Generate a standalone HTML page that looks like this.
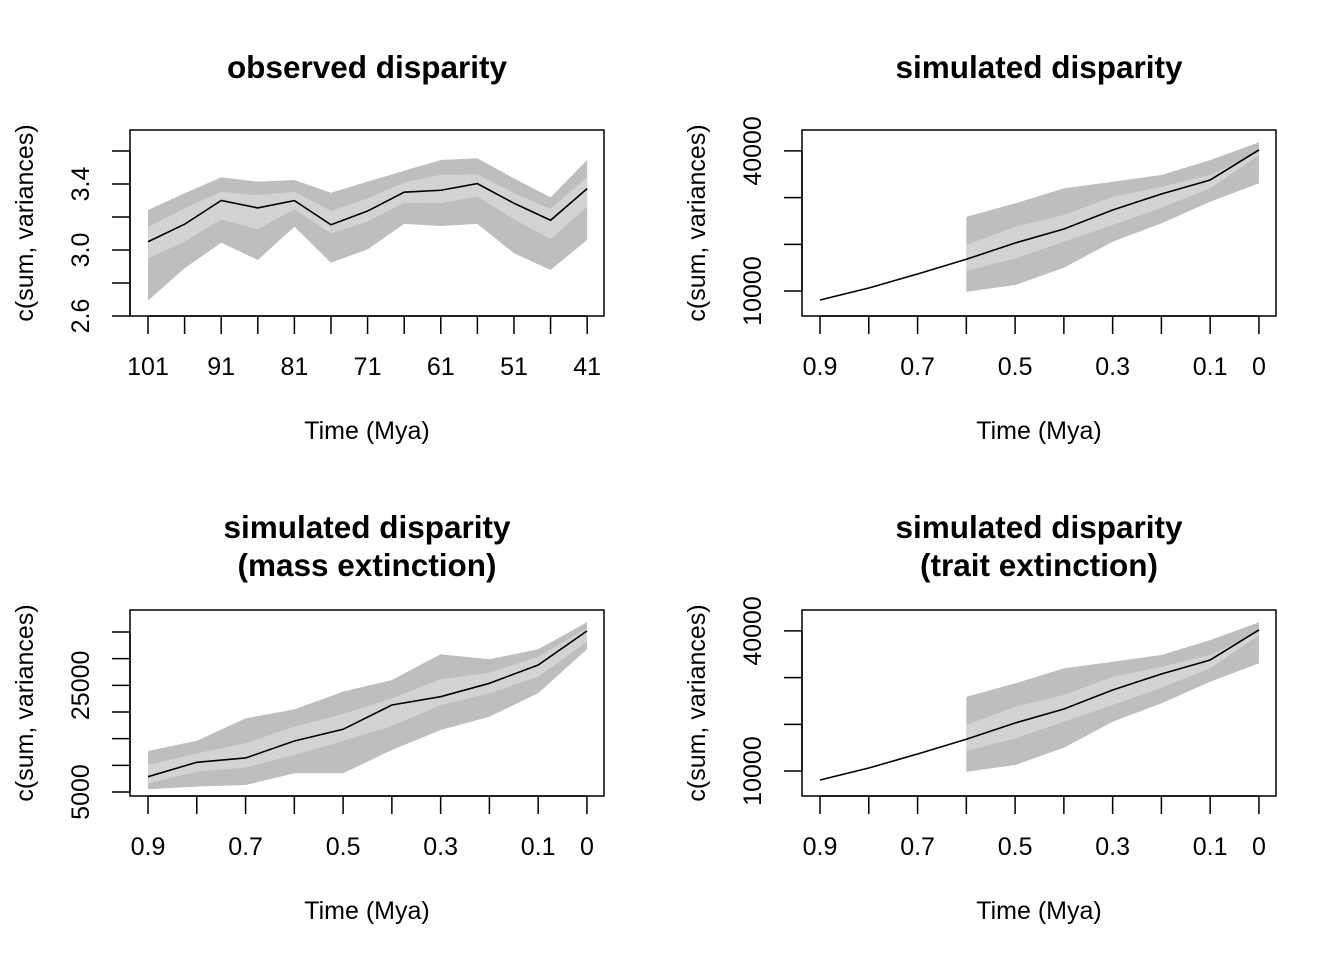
<!DOCTYPE html>
<html><head><meta charset="utf-8"><style>body{margin:0;background:#fff}svg{display:block;font-family:"Liberation Sans",Arial,sans-serif}</style></head>
<body>
<svg id="c" width="1344" height="960"></svg>
<script>
const p1Ages=[101,96,91,86,81,76,71,66,61,56,51,46,41];
const p1Median=[3.05,3.156,3.30,3.255,3.299,3.153,3.236,3.35,3.362,3.402,3.283,3.18,3.372];
const p1OuterHi=[3.242,3.344,3.44,3.414,3.424,3.347,3.414,3.48,3.545,3.556,3.434,3.319,3.545];
const p1InnerHi=[3.141,3.253,3.353,3.333,3.353,3.236,3.313,3.41,3.455,3.459,3.344,3.248,3.444];
const p1InnerLo=[2.95,3.05,3.186,3.125,3.247,3.101,3.172,3.287,3.283,3.323,3.186,3.065,3.262];
const p1OuterLo=[2.693,2.889,3.044,2.939,3.141,2.923,3.004,3.158,3.145,3.158,2.98,2.879,3.061];
const p1XTicks=[101,91,81,71,61,51,41];
const p1YTicks=["2.6","3.0","3.4"];
const p1YMinor=[2.6,2.8,3.0,3.2,3.4,3.6];

const simTimes=[0.9,0.8,0.7,0.6,0.5,0.4,0.3,0.2,0.1,0];
const simMedian=[8070,10640,13640,16800,20280,23280,27350,30780,33780,40210];
const bandTimes=[0.6,0.5,0.4,0.3,0.2,0.1,0];
const simOuterHi=[25910,28770,31980,33400,34840,38050,41840];
const simInnerHi=[19850,23770,26280,30190,32330,34840,39830];
const simInnerLo=[14280,16990,20550,24130,27840,31990,39120];
const simOuterLo=[9850,11280,14990,20550,24490,29120,33060];
const simYTicks=["10000","40000"];
const simYMinor=[10000,20000,30000,40000];

const massMedian=[7870,10570,11380,14560,16760,21310,22870,25380,28810,35190];
const massOuterHi=[12690,14620,18810,20500,23810,26000,30820,29880,31760,36820];
const massInnerHi=[10060,12250,14130,17250,19630,22560,26130,27370,30370,35690];
const massInnerLo=[6630,8810,9560,11940,14560,17380,21310,23510,26620,33180];
const massOuterLo=[5510,6000,6310,8510,8510,12880,16630,19120,23510,31760];
const massYTicks=["5000","25000"];
const massYMinor=[5000,10000,15000,20000,25000,30000,35000];

const timeTicks=[0.9,0.7,0.5,0.3,0.1,0];
const timeMinor=[0.9,0.8,0.7,0.6,0.5,0.4,0.3,0.2,0.1,0];

const NS="http://www.w3.org/2000/svg";
const svg=document.getElementById('c');
function mk(t,a,parent){const e=document.createElementNS(NS,t);for(const k in a)e.setAttribute(k,a[k]);(parent||svg).appendChild(e);return e;}
const FS=25;

function panel(o){
  const g=mk('g',{});
  
  
  const X=v=>o.x0+(v-o.xmin)/(o.xmax-o.xmin)*(o.x1-o.x0);
  const Y=v=>o.y1-(v-o.ymin)/(o.ymax-o.ymin)*(o.y1-o.y0);
  function band(xs,hi,lo,fill,nm){
    let d='M'+xs.map((x,i)=>X(x)+','+Y(hi[i])).join('L');
    d+='L'+xs.map((x,i)=>[X(x),Y(lo[i])]).reverse().map(p=>p.join(',')).join('L')+'Z';
    const p=mk('path',{d:d,fill:fill},g);
    
    
  }
  band(o.bx,o.oh,o.ol,'#bebebe','outer-band');
  band(o.bx,o.ih,o.il,'#d3d3d3','inner-band');
  const ln=mk('polyline',{points:o.lx.map((x,i)=>X(x)+','+Y(o.med[i])).join(' '),fill:'none',stroke:'#000','stroke-width':1.6},g);
  
  
  const box=mk('rect',{x:o.x0,y:o.y0,width:o.x1-o.x0,height:o.y1-o.y0,fill:'none',stroke:'#000','stroke-width':1.5},g);
  
  
  const xm=o.xMinor;
  mk('line',{x1:X(xm[0]),x2:X(xm[xm.length-1]),y1:o.y1,y2:o.y1,stroke:'#000','stroke-width':1.5},g);
  xm.forEach(v=>mk('line',{x1:X(v),x2:X(v),y1:o.y1,y2:o.y1+18,stroke:'#000','stroke-width':1.5},g));
  o.xTicks.forEach(v=>{const t=mk('text',{x:X(v),y:o.y1+59,'font-size':FS,'text-anchor':'middle'},g);t.textContent=String(v);
    });
  const xt=mk('text',{x:(o.x0+o.x1)/2,y:o.y1+123,'font-size':FS,'text-anchor':'middle'},g);xt.textContent='Time (Mya)';
  
  const ym=o.yMinor;
  mk('line',{x1:o.x0,x2:o.x0,y1:Y(ym[0]),y2:Y(ym[ym.length-1]),stroke:'#000','stroke-width':1.5},g);
  ym.forEach(v=>mk('line',{x1:o.x0-18,x2:o.x0,y1:Y(v),y2:Y(v),stroke:'#000','stroke-width':1.5},g));
  o.yTicks.forEach(s=>{const t=mk('text',{x:0,y:0,'font-size':FS,'text-anchor':'middle',transform:`translate(${o.x0-41},${Y(parseFloat(s))}) rotate(-90)`},g);t.textContent=s;
    });
  const yt=mk('text',{x:0,y:0,'font-size':FS,'text-anchor':'middle',transform:`translate(${o.x0-97},${(o.y0+o.y1)/2}) rotate(-90)`},g);yt.textContent='c(sum, variances)';
  
  o.title.forEach((s,i)=>{const t=mk('text',{x:(o.x0+o.x1)/2,y:o.ty+i*38,'font-size':31.5,'font-weight':'bold','text-anchor':'middle'},g);t.textContent=s;
    });
}
panel({name:'observed-disparity-panel',x0:130,x1:604,y0:130,y1:316,xmin:103.46,xmax:38.7,ymin:2.6,ymax:3.727,
  lx:p1Ages,med:p1Median,bx:p1Ages,oh:p1OuterHi,ih:p1InnerHi,il:p1InnerLo,ol:p1OuterLo,
  xTicks:p1XTicks,xMinor:p1Ages,yTicks:p1YTicks,yMinor:p1YMinor,title:['observed disparity'],ty:78});
panel({name:'simulated-disparity-panel',x0:802,x1:1276,y0:130,y1:316,xmin:0.937,xmax:-0.035,ymin:4650,ymax:44480,
  lx:simTimes,med:simMedian,bx:bandTimes,oh:simOuterHi,ih:simInnerHi,il:simInnerLo,ol:simOuterLo,
  xTicks:timeTicks,xMinor:timeMinor,yTicks:simYTicks,yMinor:simYMinor,title:['simulated disparity'],ty:78});
panel({name:'mass-extinction-panel',x0:130,x1:604,y0:610,y1:796,xmin:0.937,xmax:-0.035,ymin:4250,ymax:39125,
  lx:simTimes,med:massMedian,bx:simTimes,oh:massOuterHi,ih:massInnerHi,il:massInnerLo,ol:massOuterLo,
  xTicks:timeTicks,xMinor:timeMinor,yTicks:massYTicks,yMinor:massYMinor,title:['simulated disparity','(mass extinction)'],ty:538});
panel({name:'trait-extinction-panel',x0:802,x1:1276,y0:610,y1:796,xmin:0.937,xmax:-0.035,ymin:4650,ymax:44480,
  lx:simTimes,med:simMedian,bx:bandTimes,oh:simOuterHi,ih:simInnerHi,il:simInnerLo,ol:simOuterLo,
  xTicks:timeTicks,xMinor:timeMinor,yTicks:simYTicks,yMinor:simYMinor,title:['simulated disparity','(trait extinction)'],ty:538});
</script>
</body></html>
